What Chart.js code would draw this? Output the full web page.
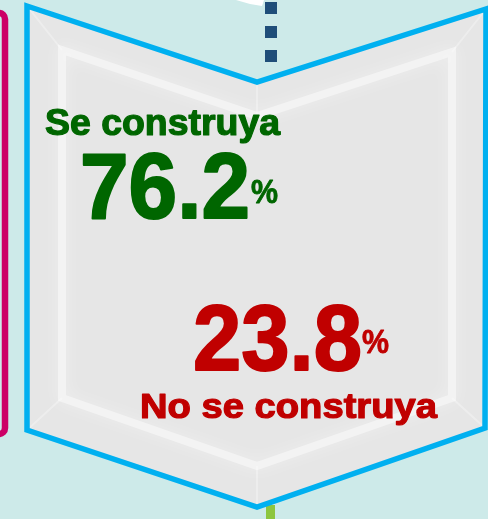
<!DOCTYPE html>
<html>
<head>
<meta charset="utf-8">
<script src="https://cdn.jsdelivr.net/npm/chart.js@4/dist/chart.umd.min.js"></script>
<style>
  html, body { margin: 0; padding: 0; background: #cdeae9; overflow: hidden; }
  canvas { display: block; }
</style>
</head>
<body>
<canvas id="resultChart" width="488" height="519"></canvas>
<script>
// datos de la consulta
const categories = ['Se construya', 'No se construya'];
const percentages = [76.2, 23.8];
const colors = ['#006600', '#c00000'];

// contorno en chevron (fondo, marco azul, adornos)
const shapePlugin = {
    id: 'chevron',
    beforeDraw(chart) {
        const ctx = chart.ctx;
        ctx.save();
        ctx.fillStyle = '#cdeae9';
        ctx.fillRect(0, 0, chart.width, chart.height);

        // flecha blanca arriba
        ctx.fillStyle = '#ffffff';
        ctx.beginPath();
        ctx.moveTo(236, 0); ctx.lineTo(264, 0); ctx.lineTo(262, 6); ctx.lineTo(250, 4);
        ctx.closePath(); ctx.fill();

        // linea punteada azul oscuro
        ctx.fillStyle = '#1f4e79';
        [2, 26, 50].forEach(y => ctx.fillRect(265, y, 12, 12));

        // borde magenta a la izquierda
        ctx.strokeStyle = '#cc0066';
        ctx.lineWidth = 6.5;
        ctx.beginPath();
        ctx.moveTo(-4, 13);
        ctx.arcTo(5, 13, 5, 22, 6);
        ctx.lineTo(5, 425);
        ctx.arcTo(5, 434, -4, 434, 6);
        ctx.stroke();

        // detalle verde abajo
        ctx.fillStyle = '#8dc63f';
        ctx.fillRect(266, 505, 9, 14);

        // chevron
        const pts = [[27, 6], [257, 82], [486, 9], [485, 428], [257, 507], [27, 430]];
        ctx.beginPath();
        pts.forEach((p, i) => i ? ctx.lineTo(p[0], p[1]) : ctx.moveTo(p[0], p[1]));
        ctx.closePath();
        ctx.fillStyle = '#e6e6e6';
        ctx.fill();

        // bisel interior, suave
        ctx.save();
        ctx.clip();
        const inner = [[62, 50], [257, 116], [452, 52], [452, 398], [257, 466], [62, 398]];
        ctx.strokeStyle = 'rgba(255,255,255,0.45)';
        ctx.lineWidth = 8;
        ctx.shadowColor = 'rgba(255,255,255,0.9)';
        ctx.shadowBlur = 16;
        ctx.beginPath();
        inner.forEach((p, i) => i ? ctx.lineTo(p[0], p[1]) : ctx.moveTo(p[0], p[1]));
        ctx.closePath();
        ctx.stroke();
        ctx.shadowBlur = 0;
        ctx.strokeStyle = 'rgba(255,255,255,0.3)';
        ctx.lineWidth = 2;
        ctx.beginPath();
        for (let i = 0; i < pts.length; i++) {
            ctx.moveTo(pts[i][0], pts[i][1]);
            ctx.lineTo(inner[i][0], inner[i][1]);
        }
        ctx.stroke();
        ctx.restore();

        ctx.beginPath();
        pts.forEach((p, i) => i ? ctx.lineTo(p[0], p[1]) : ctx.moveTo(p[0], p[1]));
        ctx.closePath();
        ctx.strokeStyle = '#00b0f0';
        ctx.lineWidth = 5.5;
        ctx.lineJoin = 'miter';
        ctx.stroke();
        ctx.restore();
    }
};

// texto ajustado al ancho, con trazo para engrosarlo
function fitText(ctx, text, x, y, width, font, weight) {
    ctx.font = font;
    const w = ctx.measureText(text).width;
    ctx.save();
    ctx.translate(x, y);
    ctx.scale(width / w, 1);
    ctx.fillText(text, 0, 0);
    if (weight) {
        ctx.lineWidth = weight;
        ctx.lineJoin = 'round';
        ctx.strokeText(text, 0, 0);
    }
    ctx.restore();
}

// textos con los valores
const labelPlugin = {
    id: 'valueLabels',
    afterDraw(chart) {
        const ctx = chart.ctx;
        const labels = chart.data.labels;
        const vals = chart.data.datasets[0].data;
        ctx.save();
        ctx.textBaseline = 'alphabetic';
        ctx.textAlign = 'left';

        ctx.fillStyle = ctx.strokeStyle = colors[0];
        fitText(ctx, labels[0], 45, 135, 235, 'bold 37px "Liberation Sans"', 1.2);
        fitText(ctx, vals[0].toFixed(1), 80, 218, 170, 'bold 92px "Liberation Sans"', 2);
        fitText(ctx, '%', 251, 203, 27, 'bold 34px "Liberation Sans"', 0.8);

        ctx.fillStyle = ctx.strokeStyle = colors[1];
        fitText(ctx, vals[1].toFixed(1), 193, 370, 169, 'bold 92px "Liberation Sans"', 2);
        fitText(ctx, '%', 362, 353, 27, 'bold 34px "Liberation Sans"', 0.8);
        fitText(ctx, labels[1], 140, 418, 297, 'bold 35px "Liberation Sans"', 1.2);
        ctx.restore();
    }
};

new Chart(document.getElementById('resultChart'), {
    type: 'bar',
    data: {
        labels: categories,
        datasets: [{
            data: percentages,
            backgroundColor: 'rgba(0,0,0,0)',
            borderWidth: 0
        }]
    },
    options: {
        responsive: false,
        animation: false,
        events: [],
        plugins: { legend: { display: false }, tooltip: { enabled: false } },
        scales: {
            x: { display: false },
            y: { display: false, beginAtZero: true, max: 100 }
        }
    },
    plugins: [shapePlugin, labelPlugin]
});
</script>
</body>
</html>
